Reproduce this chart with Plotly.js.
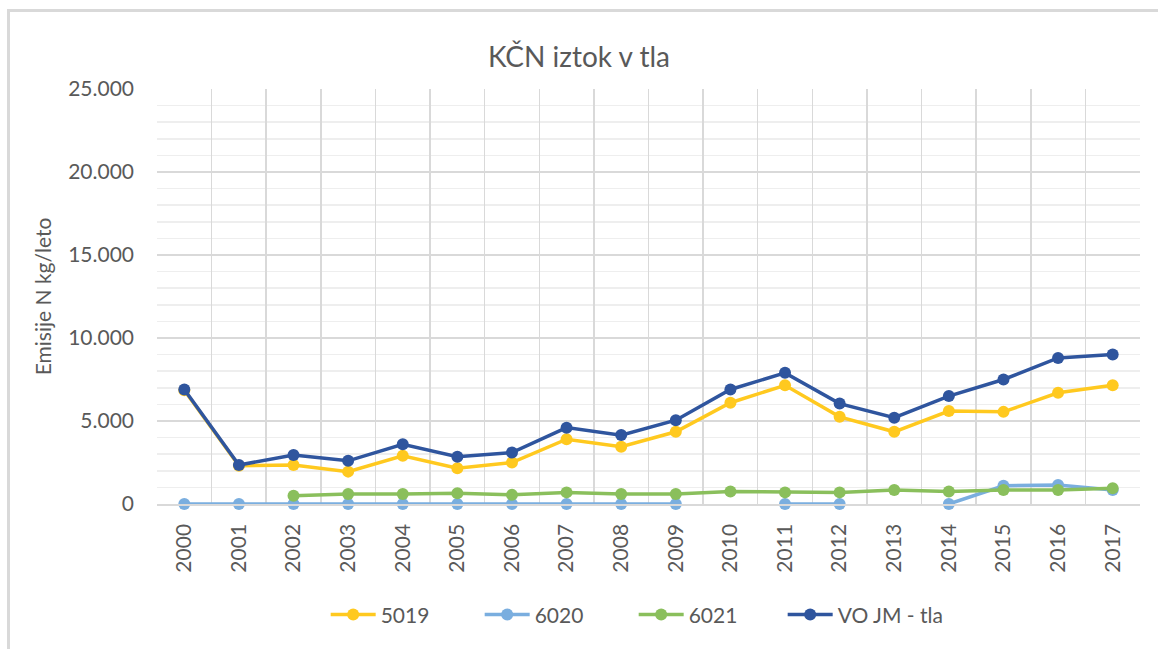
<!DOCTYPE html>
<html>
<head>
<meta charset="utf-8">
<script src="https://cdn.plot.ly/plotly-3.0.1.min.js"></script>
<style>
html,body{margin:0;padding:0;background:#fff;}
#frame{position:absolute;left:7px;top:9px;width:1160px;height:650px;border-left:3px solid #d9d9d9;border-top:3px solid #d9d9d9;box-sizing:border-box;pointer-events:none;z-index:5;}
#chart{position:absolute;left:0;top:0;width:1158px;height:649px;}
</style>
</head>
<body>
<div id="chart"></div>
<div id="frame"></div>
<script>
const years = ["2000","2001","2002","2003","2004","2005","2006","2007","2008","2009","2010","2011","2012","2013","2014","2015","2016","2017"];
const s5019 = [6850,2300,2350,1950,2900,2150,2500,3900,3450,4350,6100,7150,5250,4350,5600,5550,6700,7150];
const s6020 = [0,0,0,0,0,0,0,0,0,0,null,0,0,null,0,1100,1150,850];
const s6021 = [null,null,500,600,600,650,550,700,600,600,750,700,700,850,750,850,850,950];
const sVOJM = [6900,2350,2950,2600,3600,2850,3100,4600,4150,5050,6900,7900,6050,5200,6500,7500,8800,9000];
const seriesNames = ["5019","6020","6021","VO JM - tla"];
const seriesColors = ["#ffc91f","#7aaedf","#8abf5c","#2f559e"];
const seriesData = [s5019, s6020, s6021, sVOJM];

const traces = seriesData.map((d,i)=>({
  x: years, y: d, name: seriesNames[i], type: 'scatter', mode: 'lines+markers',
  line: {color: seriesColors[i], width: 3.5},
  marker: {color: seriesColors[i], size: 12},
  connectgaps: false, cliponaxis: false,
  legend: i === 3 ? 'legend2' : 'legend'
}));

const font = "Lato, Open Sans, sans-serif";
const legendBase = {orientation: 'h', xanchor: 'left', y: -0.267, yanchor: 'middle', font: {size: 21, color: '#595959'},
                    itemwidth: 45, traceorder: 'normal'};
const layout = {
  width: 1158, height: 649,
  margin: {l:157, r:18, t:89, b:145},
  paper_bgcolor: '#fff', plot_bgcolor: '#fff',
  separators: ',.',
  font: {family: font, color: '#595959', size: 21},
  title: {text: 'KČN iztok v tla', x: 0.5, xanchor: 'center', y: 0.912, yanchor: 'middle', font: {size: 28, color: '#595959', family: font}},
  xaxis: {
    type: 'category', range: [-0.5, 17.5], autorange: false, automargin: false,
    tickson: 'boundaries', showgrid: true, gridcolor: '#d9d9d9', gridwidth: 1.5,
    tickangle: -90, ticks: '', showline: true, linecolor: '#d9d9d9', linewidth: 1.5,
    tickfont: {size: 21, color: '#595959'}, fixedrange: true, ticklabelstandoff: 10
  },
  yaxis: {
    range: [0, 25000], autorange: false, automargin: false, dtick: 5000, tickformat: ',d', showgrid: true, gridcolor: '#d9d9d9', gridwidth: 1.5,
    zeroline: false, showline: false, ticks: '', ticklen: 0, ticklabelstandoff: 22,
    minor: {dtick: 1000, showgrid: true, gridcolor: '#eeeeee', gridwidth: 1.5},
    title: {text: 'Emisije N kg/leto', font: {size: 21, color: '#595959'}, standoff: 10},
    tickfont: {size: 21, color: '#595959'}, fixedrange: true
  },
  legend: Object.assign({}, legendBase, {x: 0.1716, entrywidth: 94, entrywidthmode: 'pixels'}),
  legend2: Object.assign({}, legendBase, {x: 0.6365}),
  showlegend: true
};

Plotly.newPlot('chart', traces, layout, {displayModeBar: false, staticPlot: true});
</script>
</body>
</html>
